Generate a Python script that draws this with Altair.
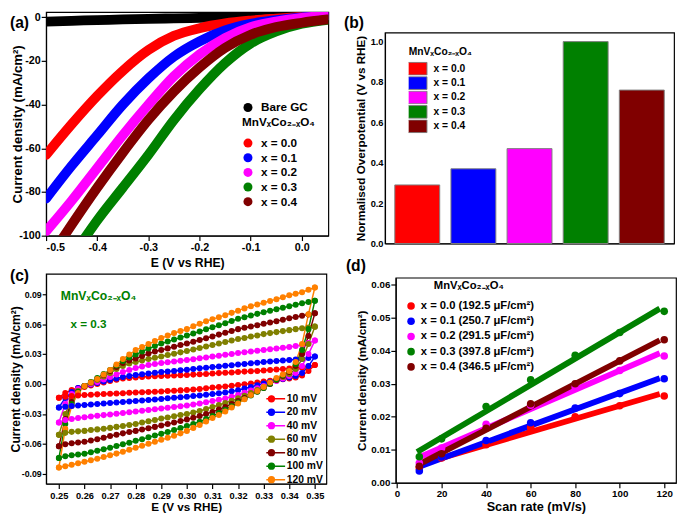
import altair as alt
import pandas as pd

FONT = "Liberation Sans"
FORMULA = "MnVₓCo₂₋ₓO₄"
COLORS5 = ["#FF0000", "#0000FF", "#FF00FF", "#008000", "#800000"]
X_LABELS = ["x = 0.0", "x = 0.1", "x = 0.2", "x = 0.3", "x = 0.4"]

# ---------------- (a) LSV curves ----------------
lsv_E = [-0.5, -0.45, -0.4, -0.35, -0.3, -0.25, -0.2, -0.15, -0.1, -0.05, 0.0, 0.05]
lsv_bare = [-2.0, -1.6, -1.3, -1.0, -0.7, -0.5, -0.3, -0.15, -0.05, 0.0, 0.05, 0.1]
lsv_x00 = [-63, -49, -36, -24.5, -15, -8.5, -5, -2.8, -1.5, -0.6, 0.2, 0.8]
lsv_x01 = [-83, -68, -54, -40, -28, -18, -11, -6, -3, -1.3, 0.0, 0.8]
lsv_x02 = [-98, -84, -69, -54, -40, -27, -17, -9.5, -4.5, -2.0, -0.3, 0.8]
lsv_x03_E = [-0.43, -0.4, -0.35, -0.3, -0.25, -0.2, -0.15, -0.1, -0.05, 0.0, 0.05]
lsv_x03 = [-103, -93, -78, -63, -47, -33, -21, -12, -6.5, -3.0, -1.2]
lsv_x04_E = [-0.47, -0.45, -0.4, -0.35, -0.3, -0.25, -0.2, -0.15, -0.1, -0.05, 0.0, 0.05]
lsv_x04 = [-102, -95, -78, -62, -47, -34, -23, -14, -8, -4.5, -2.5, -1.0]

# ---------------- (b) normalised overpotential ----------------
bar_values = [0.29, 0.37, 0.47, 1.0, 0.76]

# ---------------- (c) CV curves, x = 0.3 ----------------
cv_E = [0.25, 0.2525, 0.255, 0.2575, 0.26, 0.2625, 0.265, 0.2675, 0.27, 0.2725,
        0.275, 0.2775, 0.28, 0.2825, 0.285, 0.2875, 0.29, 0.2925, 0.295, 0.2975,
        0.30, 0.3025, 0.305, 0.3075, 0.31, 0.3125, 0.315, 0.3175, 0.32, 0.3225,
        0.325, 0.3275, 0.33, 0.3325, 0.335, 0.3375, 0.34, 0.3425, 0.345, 0.3475, 0.35]
cv_labels = ["10 mV", "20 mV", "40 mV", "60 mV", "80 mV", "100 mV", "120 mV"]
cv_colors = ["#FF0000", "#0000FF", "#FF00FF", "#808000", "#800000", "#008000", "#FF8000"]
cv_10_up = [-0.0137, -0.009, -0.006, -0.004, -0.003, -0.0015, 0.0, 0.0015, 0.003, 0.0043,
            0.0055, 0.006, 0.0065, 0.007, 0.0075, 0.0078, 0.008, 0.0083, 0.0086, 0.0088,
            0.009, 0.0094, 0.0098, 0.0101, 0.0105, 0.0109, 0.0113, 0.0116, 0.012, 0.0124,
            0.0128, 0.0131, 0.0135, 0.014, 0.0145, 0.015, 0.0155, 0.016, 0.0166, 0.0176, 0.019]
cv_10_lo = [-0.0137, -0.0128, -0.012, -0.0115, -0.011, -0.0107, -0.0104, -0.0101, -0.0098, -0.0095,
            -0.0092, -0.0088, -0.0085, -0.0082, -0.008, -0.0078, -0.0075, -0.0071, -0.0067, -0.0064,
            -0.006, -0.0055, -0.005, -0.0043, -0.0035, -0.003, -0.0025, -0.0018, -0.001, -0.0003,
            0.0005, 0.0015, 0.0025, 0.0033, 0.004, 0.0048, 0.0055, 0.0065, 0.0085, 0.013, 0.019]
cv_20_up = [-0.0235, -0.014, -0.008, -0.004, -0.002, -0.0005, 0.001, 0.0025, 0.004, 0.0055,
            0.007, 0.008, 0.009, 0.0098, 0.0105, 0.0113, 0.012, 0.0125, 0.013, 0.0137,
            0.0143, 0.015, 0.0157, 0.0163, 0.017, 0.0176, 0.0183, 0.0189, 0.0195, 0.0201,
            0.0208, 0.0214, 0.022, 0.0225, 0.023, 0.0235, 0.024, 0.0245, 0.025, 0.026, 0.0275]
cv_20_lo = [-0.0235, -0.0227, -0.022, -0.0215, -0.021, -0.0205, -0.02, -0.0195, -0.019, -0.0185,
            -0.018, -0.0175, -0.017, -0.0165, -0.016, -0.0155, -0.015, -0.0144, -0.0138, -0.0133,
            -0.0127, -0.0121, -0.0115, -0.0108, -0.01, -0.0093, -0.0085, -0.0074, -0.0062, -0.0046,
            -0.003, -0.0012, 0.0005, 0.002, 0.0035, 0.005, 0.0065, 0.008, 0.011, 0.018, 0.0275]
cv_40_up = [-0.0385, -0.02, -0.01, -0.005, -0.002, 0.0, 0.002, 0.0045, 0.007, 0.0095,
            0.012, 0.014, 0.016, 0.0175, 0.019, 0.02, 0.021, 0.0218, 0.0225, 0.0233,
            0.024, 0.0249, 0.0258, 0.0266, 0.0275, 0.0284, 0.0293, 0.0301, 0.031, 0.0318,
            0.0325, 0.0333, 0.034, 0.0348, 0.0355, 0.0363, 0.037, 0.038, 0.039, 0.041, 0.0435]
cv_40_lo = [-0.0385, -0.0362, -0.035, -0.0341, -0.0333, -0.0326, -0.0319, -0.0312, -0.0305, -0.0298,
            -0.029, -0.0283, -0.0275, -0.0268, -0.026, -0.0253, -0.0245, -0.0238, -0.0231, -0.0223,
            -0.0216, -0.0206, -0.0195, -0.0183, -0.017, -0.0158, -0.0145, -0.0128, -0.011, -0.0088,
            -0.0065, -0.0043, -0.002, 0.0005, 0.003, 0.0055, 0.008, 0.011, 0.018, 0.03, 0.0435]
cv_60_up = [-0.051, -0.03, -0.015, -0.007, -0.002, 0.001, 0.004, 0.0075, 0.011, 0.015,
            0.018, 0.0205, 0.022, 0.0235, 0.025, 0.0263, 0.0276, 0.029, 0.0303, 0.0317,
            0.033, 0.0345, 0.036, 0.0375, 0.039, 0.0405, 0.042, 0.0435, 0.045, 0.0462,
            0.0475, 0.0487, 0.05, 0.051, 0.052, 0.053, 0.054, 0.055, 0.0558, 0.0566, 0.0575]
cv_60_lo = [-0.051, -0.049, -0.048, -0.0475, -0.047, -0.0462, -0.0455, -0.0448, -0.044, -0.043,
            -0.042, -0.041, -0.04, -0.0387, -0.0373, -0.036, -0.0347, -0.0335, -0.0323, -0.0311,
            -0.03, -0.0285, -0.027, -0.025, -0.023, -0.021, -0.019, -0.0167, -0.0144, -0.0117,
            -0.009, -0.006, -0.003, 0.0005, 0.004, 0.007, 0.01, 0.015, 0.025, 0.04, 0.0575]
cv_80_up = [-0.0625, -0.035, -0.018, -0.008, -0.002, 0.0015, 0.005, 0.009, 0.013, 0.017,
            0.021, 0.0235, 0.0255, 0.028, 0.0305, 0.0325, 0.034, 0.0357, 0.0373, 0.039,
            0.0405, 0.0423, 0.0441, 0.0459, 0.0477, 0.0495, 0.0513, 0.0531, 0.055, 0.0563,
            0.0577, 0.059, 0.0603, 0.0617, 0.063, 0.0645, 0.066, 0.0672, 0.0685, 0.0697, 0.071]
cv_80_lo = [-0.0625, -0.0605, -0.0595, -0.0587, -0.058, -0.0567, -0.0555, -0.0538, -0.0522, -0.0508,
            -0.0495, -0.0482, -0.047, -0.0457, -0.0443, -0.043, -0.0415, -0.0401, -0.0387, -0.0372,
            -0.0356, -0.0339, -0.0322, -0.0301, -0.028, -0.0255, -0.023, -0.02, -0.017, -0.014,
            -0.011, -0.0075, -0.004, 0.0, 0.004, 0.008, 0.012, 0.018, 0.03, 0.048, 0.071]
cv_100_up = [-0.0742, -0.04, -0.02, -0.008, -0.002, 0.002, 0.006, 0.01, 0.014, 0.0185,
             0.023, 0.0265, 0.0295, 0.0325, 0.0355, 0.038, 0.0405, 0.0425, 0.0445, 0.0465,
             0.0485, 0.0506, 0.0527, 0.0548, 0.0568, 0.0589, 0.061, 0.0632, 0.0653, 0.067,
             0.0687, 0.0703, 0.072, 0.0735, 0.075, 0.0765, 0.078, 0.0795, 0.081, 0.0822, 0.0835]
cv_100_lo = [-0.0742, -0.0725, -0.0715, -0.0707, -0.07, -0.0685, -0.067, -0.0655, -0.064, -0.0622,
             -0.0605, -0.0588, -0.057, -0.0553, -0.0535, -0.0517, -0.05, -0.0481, -0.0462, -0.0442,
             -0.0422, -0.04, -0.0378, -0.035, -0.0322, -0.029, -0.0258, -0.0222, -0.0186, -0.015,
             -0.0115, -0.0078, -0.004, 0.0003, 0.0045, 0.0088, 0.013, 0.02, 0.034, 0.055, 0.0835]
cv_120_up = [-0.0837, -0.045, -0.022, -0.009, -0.002, 0.0015, 0.005, 0.0095, 0.014, 0.0195,
             0.025, 0.0295, 0.034, 0.037, 0.04, 0.043, 0.046, 0.0485, 0.051, 0.053,
             0.055, 0.0578, 0.0605, 0.0628, 0.065, 0.067, 0.069, 0.0713, 0.0735, 0.0758,
             0.078, 0.0798, 0.0815, 0.0833, 0.085, 0.087, 0.089, 0.0905, 0.092, 0.0945, 0.0967]
cv_120_lo = [-0.0837, -0.0825, -0.081, -0.0795, -0.078, -0.0765, -0.075, -0.0733, -0.0715, -0.0698,
             -0.068, -0.066, -0.064, -0.062, -0.06, -0.058, -0.056, -0.054, -0.052, -0.0495,
             -0.047, -0.044, -0.041, -0.0375, -0.034, -0.031, -0.0275, -0.0235, -0.0195, -0.0152,
             -0.011, -0.007, -0.003, 0.0015, 0.006, 0.0095, 0.013, 0.022, 0.04, 0.07, 0.0967]

# ---------------- (d) Cdl plots ----------------
scan_rates = [10, 20, 40, 60, 80, 100, 120]
cdl_labels = ["x = 0.0 (192.5 μF/cm²)", "x = 0.1 (250.7 μF/cm²)", "x = 0.2 (291.5 μF/cm²)",
              "x = 0.3 (397.8 μF/cm²)", "x = 0.4 (346.5 μF/cm²)"]
cdl_x00 = [0.0045, 0.0075, 0.0115, 0.0167, 0.0200, 0.0233, 0.0263]
cdl_x01 = [0.0036, 0.0078, 0.0128, 0.0182, 0.0226, 0.0270, 0.0315]
cdl_x02 = [0.0060, 0.0105, 0.0177, 0.0235, 0.0290, 0.0340, 0.0384]
cdl_x03 = [0.0079, 0.0133, 0.0231, 0.0312, 0.0386, 0.0455, 0.0519]
cdl_x04 = [0.0050, 0.0088, 0.0165, 0.0239, 0.0300, 0.0369, 0.0433]

# ================= tables =================
df_bare = pd.DataFrame({"gc": "Bare GC", "E": lsv_E, "J": lsv_bare})
rows = []
for lab, Es, Js in [(X_LABELS[0], lsv_E, lsv_x00), (X_LABELS[1], lsv_E, lsv_x01),
                    (X_LABELS[2], lsv_E, lsv_x02), (X_LABELS[3], lsv_x03_E, lsv_x03),
                    (X_LABELS[4], lsv_x04_E, lsv_x04)]:
    for e, j in zip(Es, Js):
        rows.append({"sample": lab, "E": e, "J": j})
df_lsv = pd.DataFrame(rows)

df_bar = pd.DataFrame({"composition": X_LABELS, "value": bar_values})

rows = []
for lab, up, lo in [(cv_labels[0], cv_10_up, cv_10_lo), (cv_labels[1], cv_20_up, cv_20_lo),
                    (cv_labels[2], cv_40_up, cv_40_lo), (cv_labels[3], cv_60_up, cv_60_lo),
                    (cv_labels[4], cv_80_up, cv_80_lo), (cv_labels[5], cv_100_up, cv_100_lo),
                    (cv_labels[6], cv_120_up, cv_120_lo)]:
    k = 0
    for e, j in zip(cv_E, up):
        rows.append({"rate": lab, "E": e, "J": j, "idx": k}); k += 1
    for e, j in zip(cv_E[::-1], lo[::-1]):
        rows.append({"rate": lab, "E": e, "J": j, "idx": k}); k += 1
df_cv = pd.DataFrame(rows)

rows = []
for lab, vals in zip(cdl_labels, [cdl_x00, cdl_x01, cdl_x02, cdl_x03, cdl_x04]):
    for r, v in zip(scan_rates, vals):
        rows.append({"cdl": lab, "scan": r, "J": v})
df_cdl = pd.DataFrame(rows)


def text_layer(txt, x, y, size=16, color="black", baseline="top"):
    return alt.Chart(pd.DataFrame({"t": [txt]})).mark_text(
        align="left", baseline=baseline, fontSize=size, fontWeight="bold", font=FONT, color=color
    ).encode(text="t:N", x=alt.value(x), y=alt.value(y))


def spacer():
    return alt.Chart(pd.DataFrame({"t": [""]})).mark_point(opacity=0, size=1).encode(
        x=alt.value(0.5), y=alt.value(0.5)
    ).properties(width=1, height=1, view=alt.ViewBackground(stroke="transparent"))


LEG = dict(labelFont=FONT, labelFontWeight="bold", labelColor="black", titleFont=FONT,
           titleFontWeight="bold", titleColor="black", padding=0, orient="none", symbolOpacity=1)
HYPHEN = "replace(datum.label, '\u2212', '-')"

# ================= panel (a) =================
xa = alt.X("E:Q", scale=alt.Scale(domain=[-0.5, 0.052], nice=False, zero=False),
           axis=alt.Axis(values=[-0.5, -0.4, -0.3, -0.2, -0.1, 0.0], format=".1f", title="E (V vs RHE)",
                         labelExpr=HYPHEN, labelFontSize=11, titleFontSize=12.5, tickSize=5, labelPadding=1,
                         titlePadding=5))
ya = alt.Y("J:Q", scale=alt.Scale(domain=[-100, 2.4], nice=False, zero=False),
           axis=alt.Axis(values=[0, -20, -40, -60, -80, -100], title="Current density (mA/cm²)",
                         labelExpr=HYPHEN, labelFontSize=11, titleFontSize=13.5, tickSize=5, labelPadding=1,
                         titleX=-22))
LSV_LINE = dict(strokeWidth=10, strokeCap="round", clip=True, interpolate="monotone")
a_bare = alt.Chart(df_bare).mark_line(color="#000000", **LSV_LINE).encode(x=xa, y=ya)
a_mn = alt.Chart(df_lsv).mark_line(**LSV_LINE).encode(
    x=xa, y=ya, stroke=alt.Stroke("sample:N", scale=alt.Scale(domain=X_LABELS[::-1], range=COLORS5[::-1]),
                                  legend=None))
a_bare_key = alt.Chart(df_bare).mark_circle(opacity=0, size=85, clip=True).encode(
    x=xa, y=ya,
    color=alt.Color("gc:N", scale=alt.Scale(domain=["Bare GC"], range=["#000000"]),
                    legend=alt.Legend(title=None, legendX=200.7, legendY=91.7, symbolType="circle", symbolSize=85,
                                      labelFontSize=12, labelOffset=7.3, clipHeight=12, **LEG)))
a_mn_key = alt.Chart(df_lsv).mark_circle(opacity=0, size=85, clip=True).encode(
    x=xa, y=ya,
    fill=alt.Fill("sample:N", scale=alt.Scale(domain=X_LABELS, range=COLORS5),
                  legend=alt.Legend(title=FORMULA, legendX=200.7, legendY=107.7, symbolType="circle", symbolSize=85,
                                    labelFontSize=12, titleFontSize=12, labelOffset=7.3, titlePadding=8.5,
                                    rowPadding=3.0, clipHeight=12, **LEG)))
A = alt.layer(a_bare, a_mn, a_bare_key, a_mn_key, text_layer("(a)", -37, 3)).properties(width=289, height=229)

# ================= panel (b) =================
b_bars = alt.Chart(df_bar).mark_bar(stroke="#7f7f7f", strokeWidth=1).encode(
    x=alt.X("composition:N", sort=X_LABELS, scale=alt.Scale(paddingInner=0.2, paddingOuter=0.175),
            axis=alt.Axis(labels=False, ticks=False, title=None)),
    y=alt.Y("value:Q", scale=alt.Scale(domain=[0, 1.045], nice=False),
            axis=alt.Axis(values=[0, 0.2, 0.4, 0.6, 0.8, 1.0], format=".1f",
                          title="Normalised Overpotential (V vs RHE)", labelFontSize=9.5, titleFontSize=12,
                          ticks=False, labelPadding=2, titleX=-18)),
    fill=alt.Fill("composition:N", scale=alt.Scale(domain=X_LABELS, range=COLORS5),
                  legend=alt.Legend(title=FORMULA, legendX=24.25, legendY=15.5,
                                    symbolType="M-4.5,-2.167H4.5V2.167H-4.5Z", symbolSize=36,
                                    symbolStrokeColor="#7f7f7f", symbolStrokeWidth=1, clipHeight=14,
                                    labelFontSize=10.5, titleFontSize=10.5, labelOffset=15, titlePadding=4,
                                    rowPadding=0.75, **LEG)))
B = alt.layer(b_bars, text_layer("(b)", -42, -18)).properties(width=296, height=216)

# ================= panel (c) =================
CV_SYMBOL = ("M-4,0H4M-0.85,0A0.85,0.85,0,1,0,0.85,0A0.85,0.85,0,1,0,-0.85,0"
             "M-0.45,0A0.45,0.45,0,1,0,0.45,0A0.45,0.45,0,1,0,-0.45,0"
             "M-0.1,0A0.1,0.1,0,1,0,0.1,0A0.1,0.1,0,1,0,-0.1,0")
c_lines = alt.Chart(df_cv).mark_line(strokeWidth=1.5, point=alt.OverlayMarkDef(filled=True, size=38, opacity=1)).encode(
    x=alt.X("E:Q", scale=alt.Scale(domain=[0.245, 0.3545], nice=False, zero=False),
            axis=alt.Axis(values=[0.25, 0.26, 0.27, 0.28, 0.29, 0.30, 0.31, 0.32, 0.33, 0.34, 0.35],
                          format=".2f", title="E (V vs RHE)", labelFontSize=9.5, titleFontSize=12,
                          tickSize=5, labelPadding=2, titlePadding=2)),
    y=alt.Y("J:Q", scale=alt.Scale(domain=[-0.1, 0.1105], nice=False, zero=False),
            axis=alt.Axis(values=[-0.09, -0.06, -0.03, 0.0, 0.03, 0.06, 0.09], format=".2f",
                          labelExpr=HYPHEN, title="Current density (mA/cm²)", labelFontSize=9,
                          titleFontSize=12.5, tickSize=4, labelPadding=1, titleX=-24.5)),
    color=alt.Color("rate:N", scale=alt.Scale(domain=cv_labels, range=cv_colors),
                    legend=alt.Legend(title=None, legendX=225.5, legendY=122.5, symbolType=CV_SYMBOL,
                                      symbolSize=49, symbolStrokeWidth=1.5, labelFontSize=10.5, labelOffset=10.5,
                                      rowPadding=2.8, clipHeight=11, **LEG)),
    order="idx:Q")
C = alt.layer(c_lines,
              text_layer("(c)", -37, -6),
              text_layer(FORMULA, 15, 23, size=12.5, color="#008000", baseline="middle"),
              text_layer("x = 0.3", 25, 52, size=12, color="#008000", baseline="middle")
              ).properties(width=287, height=215)

# ================= panel (d) =================
xd = alt.X("scan:Q", scale=alt.Scale(domain=[-0.6, 125.3], nice=False, zero=False),
           axis=alt.Axis(values=[0, 20, 40, 60, 80, 100, 120], title="Scan rate (mV/s)", labelFontSize=10,
                         titleFontSize=13, tickSize=5, labelPadding=1, titlePadding=2))
yd = alt.Y("J:Q", scale=alt.Scale(domain=[0, 0.0621], nice=False),
           axis=alt.Axis(values=[0, 0.01, 0.02, 0.03, 0.04, 0.05, 0.06], format=".2f",
                         title="Current density (mA/cm²)", labelFontSize=10, titleFontSize=12,
                         tickSize=5, labelPadding=1, titleX=-28))
d_fit = alt.Chart(df_cdl).transform_regression("scan", "J", groupby=["cdl"], extent=[9, 118]).mark_line(
    strokeWidth=6).encode(x=xd, y=yd,
                          stroke=alt.Stroke("cdl:N", scale=alt.Scale(domain=cdl_labels[::-1], range=COLORS5[::-1]),
                                            legend=None))
d_pts = alt.Chart(df_cdl).mark_circle(size=60, opacity=1).encode(
    x=xd, y=yd,
    fill=alt.Fill("cdl:N", scale=alt.Scale(domain=cdl_labels, range=COLORS5),
                  legend=alt.Legend(title=None, legendX=9.95, legendY=22.95, symbolType="circle", symbolSize=60,
                                    labelFontSize=11.5, labelOffset=4.25, rowPadding=3.6, clipHeight=12, **LEG)))
D = alt.layer(d_fit, d_pts, text_layer("(d)", -51, -20),
              text_layer(FORMULA, 39, 9, size=11.5, baseline="middle")).properties(width=287, height=210)

IND = dict(color="independent", fill="independent", stroke="independent")


def ind(c):
    return c.resolve_scale(**IND).resolve_legend(**IND)


left = ind(alt.vconcat(A, C, spacing=-4))
b_wrap = ind(alt.vconcat(spacer(), B, spacing=0))
d_wrap = ind(alt.hconcat(spacer(), D, spacing=-43))
right = ind(alt.vconcat(b_wrap, d_wrap, spacing=8))
chart = ind(alt.hconcat(left, right, spacing=14)).properties(
    padding={"left": 0, "top": -4, "right": 0, "bottom": 0}
).configure(font=FONT).configure_view(stroke="black", strokeWidth=1.2).configure_axis(
    grid=False, domainColor="black", tickColor="black", labelColor="black", titleColor="black",
    labelFont=FONT, titleFont=FONT, labelFontWeight="bold", titleFontWeight="bold",
    domainWidth=1.2, tickWidth=1.2)

chart.save("out.html", embed_options={"renderer": "svg", "actions": False})
